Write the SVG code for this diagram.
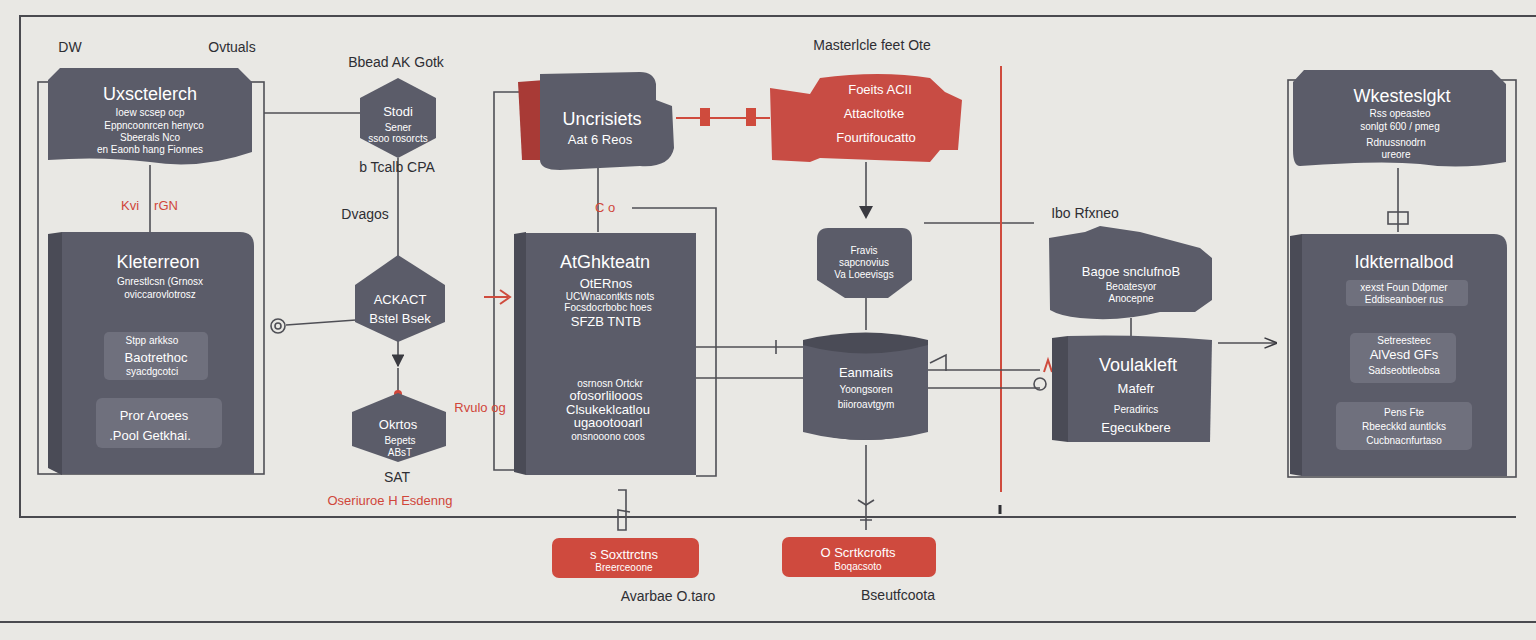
<svg xmlns="http://www.w3.org/2000/svg" width="1536" height="640" viewBox="0 0 1536 640">
<defs>
<style>
.bg{fill:#e9e8e4}
.frame{fill:none;stroke:#4a4a4f;stroke-width:2}
.ln{fill:none;stroke:#4f4f55;stroke-width:1.6}
.rln{fill:none;stroke:#cf4b3d;stroke-width:2}
.dk{fill:#5b5c69}
.dk2{fill:#4a4b56}
.lt{fill:#6f707d}
.red{fill:#c84c44}
.red2{fill:#a83a36}
.btn{fill:#cf4a3e}
.t{font-family:"Liberation Sans","DejaVu Sans",sans-serif;fill:#ffffff;text-anchor:middle}
.h{font-size:18px}
.m{font-size:13px}
.s{font-size:10px}
.lb{font-family:"Liberation Sans","DejaVu Sans",sans-serif;fill:#2e2e33;text-anchor:middle;font-size:14px}
.rl{font-family:"Liberation Sans","DejaVu Sans",sans-serif;fill:#d0463a;text-anchor:middle;font-size:13px}
</style>
<marker id="ah" viewBox="0 0 10 10" refX="9" refY="5" markerWidth="8" markerHeight="8" orient="auto"><path d="M0,0 L10,5 L0,10 z" fill="#3a3a40"/></marker>
<marker id="av" viewBox="0 0 10 10" refX="9" refY="5" markerWidth="8" markerHeight="8" orient="auto"><path d="M0,1 L10,5 L0,9" fill="none" stroke="#3a3a40" stroke-width="1.2"/></marker>
</defs>
<rect class="bg" x="0" y="0" width="1536" height="640"/>
<path class="frame" d="M1536,16 L20,16 L20,517 L1516,517"/>
<line class="frame" x1="0" y1="622" x2="1536" y2="622"/>
<text class="lb" x="70" y="52">DW</text>
<text class="lb" x="232" y="52">Ovtuals</text>
<text class="lb" x="396" y="67">Bbead AK Gotk</text>
<text class="lb" x="872" y="50">Masterlcle feet Ote</text>

<g id="connectors">
<rect class="ln" x="38" y="82" width="226" height="392"/>
<line class="ln" x1="150" y1="165" x2="150" y2="232"/>
<line class="ln" x1="264" y1="113" x2="360" y2="113"/>
<line class="ln" x1="398" y1="158" x2="398" y2="256"/>
<line class="ln" x1="398" y1="340" x2="398" y2="366" marker-end="url(#ah)"/>
<line class="ln" x1="398" y1="368" x2="398" y2="395"/>
<circle cx="398" cy="394" r="4" fill="#d0463a"/>
<circle class="ln" cx="278" cy="326" r="7"/>
<circle class="ln" cx="278" cy="326" r="3"/>
<line class="ln" x1="286" y1="325" x2="356" y2="320"/>
<path class="ln" d="M520,92 L494,92 L494,470 L516,470"/>
<line class="ln" x1="598" y1="168" x2="598" y2="232"/>
<path class="ln" d="M632,208 L716,208 L716,476 L696,476"/>
<path class="rln" d="M484,297 L508,297 M500,290 L510,297 L500,304"/>
<line class="ln" x1="696" y1="347" x2="805" y2="347"/>
<line class="ln" x1="776" y1="340" x2="776" y2="354"/>
<line class="ln" x1="696" y1="378" x2="805" y2="378"/>
<path class="rln" d="M676,118 L770,118" stroke-width="3"/>
<rect x="700" y="108" width="10" height="18" fill="#cf4b3d"/>
<rect x="746" y="108" width="10" height="18" fill="#cf4b3d"/>
<line class="ln" x1="866" y1="162" x2="866" y2="208"/>
<path d="M859,206 L873,206 L866,219 z" fill="#3a3a40"/>
<line class="ln" x1="866" y1="298" x2="866" y2="330"/>
<line class="ln" x1="924" y1="223" x2="1034" y2="223"/>
<line class="rln" x1="1001" y1="66" x2="1001" y2="492" stroke-width="2.2"/>
<line class="ln" x1="928" y1="370" x2="1040" y2="370"/>
<path class="ln" d="M930,363 L946,355 L946,371"/>
<line class="ln" x1="928" y1="388" x2="1040" y2="388"/>
<circle class="ln" cx="1040" cy="384" r="6"/>
<path class="rln" d="M1044,372 L1048,360 L1052,372"/>
<line class="ln" x1="1131" y1="318" x2="1131" y2="338"/>
<line class="ln" x1="1218" y1="343" x2="1276" y2="343" marker-end="url(#av)"/>
<rect class="ln" x="1288" y="80" width="228" height="397"/>
<line class="ln" x1="1398" y1="168" x2="1398" y2="232"/>
<rect class="ln" x="1388" y="212" width="20" height="12"/>
<line class="ln" x1="866" y1="445" x2="866" y2="530"/>
<path class="ln" d="M858,500 L866,505 L874,500 M860,520 L872,520"/>
<path class="ln" d="M618,490 L626,490 L626,530 L618,530 L618,510 L630,512"/>
<line x1="1000" y1="505" x2="1000" y2="514" stroke="#2e2e33" stroke-width="3"/>
</g>

<g id="n-left-top">
<path class="dk" d="M60,68 L238,68 L252,82 L252,152 Q200,170 150,162 Q100,156 48,160 L48,80 z"/>
<text class="t h" x="150" y="100">Uxsctelerch</text>
<text class="t s" x="150" y="116">Ioew scsep ocp</text>
<text class="t s" x="154" y="129">Eppncoonrcen henyco</text>
<text class="t s" x="150" y="141">Sbeerals Nco</text>
<text class="t s" x="150" y="153">en Eaonb hang Fionnes</text>
</g>

<g id="n-left-main">
<path class="dk2" d="M48,234 L62,232 L62,475 L48,468 z"/>
<path class="dk" d="M62,232 L240,232 Q254,232 254,246 L254,474 L62,474 z"/>
<text class="t h" x="158" y="268">Kleterreon</text>
<text class="t s" x="160" y="285">Gnrestlcsn (Grnosx</text>
<text class="t s" x="160" y="298">oviccarovlotrosz</text>
<rect class="lt" x="104" y="332" width="104" height="48" rx="5"/>
<text class="t s" x="152" y="344">Stpp arkkso</text>
<text class="t m" x="156" y="362">Baotrethoc</text>
<text class="t s" x="152" y="375">syacdgcotci</text>
<rect class="lt" x="96" y="398" width="126" height="50" rx="6"/>
<text class="t m" x="154" y="420">Pror Aroees</text>
<text class="t m" x="150" y="440">.Pool Getkhai.</text>
<text class="rl" x="130" y="210">Kvi</text>
<text class="rl" x="166" y="210">rGN</text>
</g>

<g id="n-hex1">
<polygon class="dk" points="398,78 436,98 436,138 398,158 360,138 360,98"/>
<text class="t m" x="398" y="116">Stodi</text>
<text class="t s" x="398" y="131">Sener</text>
<text class="t s" x="398" y="142" font-size="7">ssoo rosorcts</text>
<text class="lb" x="397" y="172" font-size="12">b Tcalb CPA</text>
<text class="lb" x="365" y="219">Dvagos</text>
</g>

<g id="n-hex2">
<polygon class="dk" points="398,255 445,285 445,322 398,342 355,322 355,285"/>
<text class="t m" x="400" y="304">ACKACT</text>
<text class="t m" x="400" y="323">Bstel Bsek</text>
</g>

<g id="n-hex3">
<polygon class="dk" points="398,393 446,412 446,446 398,462 352,446 352,412"/>
<text class="t m" x="398" y="429">Okrtos</text>
<text class="t s" x="400" y="444">Bepets</text>
<text class="t s" x="400" y="456">ABsT</text>
<text class="lb" x="397" y="482" font-size="12">SAT</text>
<text class="rl" x="390" y="505">Oseriuroe H Esdenng</text>
<text class="rl" x="480" y="412">Rvulo og</text>
</g>

<g id="n-center-top">
<path class="red2" d="M518,82 L545,80 L545,160 L522,160 z"/>
<path class="dk" d="M540,74 L640,72 Q654,72 656,84 L656,100 L672,106 L674,148 Q670,168 640,166 L560,170 Q540,170 540,160 z"/>
<text class="t h" x="602" y="125">Uncrisiets</text>
<text class="t m" x="600" y="144">Aat 6 Reos</text>
</g>

<g id="n-center-red">
<path class="red" d="M770,88 L810,94 L820,78 Q880,70 930,78 L945,92 L962,100 L958,150 L940,150 L930,162 L820,158 L810,162 L772,160 z"/>
<text class="t m" x="880" y="94">Foeits ACII</text>
<text class="t m" x="874" y="118">Attacltotke</text>
<text class="t m" x="876" y="142">Fourtifoucatto</text>
</g>

<g id="n-center-main">
<text class="rl" x="605" y="212">C  o</text>
<path class="dk2" d="M514,234 L526,232 L526,475 L514,472 z"/>
<path class="dk" d="M526,233 L696,233 L696,475 L526,475 z"/>
<text class="t h" x="605" y="268">AtGhkteatn</text>
<text class="t m" x="606" y="288">OtERnos</text>
<text class="t s" x="610" y="300">UCWnacontkts nots</text>
<text class="t s" x="608" y="311" font-size="8">Focsdocrbobc hoes</text>
<text class="t m" x="606" y="326">SFZB TNTB</text>
<text class="t s" x="610" y="387">osrnosn Ortckr</text>
<text class="t m" x="606" y="400">ofosorlilooos</text>
<text class="t m" x="608" y="414">Clsukeklcatlou</text>
<text class="t m" x="608" y="427">ugaootooarl</text>
<text class="t s" x="608" y="440" font-size="7">onsnooono coos</text>
</g>

<g id="n-shield">
<path class="dk" d="M828,228 L902,228 Q912,228 912,240 L912,280 L888,298 L845,298 L817,280 L817,240 Q817,228 828,228 z"/>
<text class="t s" x="864" y="254">Fravis</text>
<text class="t s" x="864" y="266">sapcnovius</text>
<text class="t s" x="864" y="278">Va Loeevisgs</text>
</g>

<g id="n-cylinder">
<path class="dk2" d="M803,340 Q866,325 928,340 L928,430 Q866,450 803,430 z"/>
<path class="dk" d="M803,345 Q866,362 928,345 L928,432 Q866,448 803,432 z"/>
<text class="t m" x="866" y="377">Eanmaits</text>
<text class="t s" x="866" y="393">Yoongsoren</text>
<text class="t s" x="866" y="408">biioroavtgym</text>
</g>

<g id="n-right-wave">
<text class="lb" x="1085" y="218" font-size="13">Ibo Rfxneo</text>
<path class="dk" d="M1049,238 L1085,232 L1100,226 L1140,232 L1200,248 L1212,258 L1212,300 L1195,312 L1160,312 Q1120,322 1080,318 Q1060,316 1050,310 z"/>
<text class="t m" x="1131" y="276">Bagoe snclufnoB</text>
<text class="t s" x="1131" y="290">Beoatesyor</text>
<text class="t s" x="1131" y="302">Anocepne</text>
</g>

<g id="n-right-box">
<path class="dk2" d="M1052,338 L1068,336 L1068,442 L1052,440 z"/>
<path class="dk" d="M1068,336 Q1140,334 1212,340 L1210,442 L1068,442 z"/>
<text class="t h" x="1138" y="371">Voulakleft</text>
<text class="t m" x="1136" y="393">Mafefr</text>
<text class="t s" x="1136" y="413">Peradirics</text>
<text class="t m" x="1136" y="432">Egecukbere</text>
</g>

<g id="n-right-top">
<path class="dk" d="M1304,70 L1492,70 L1506,84 L1506,162 Q1460,170 1420,164 Q1380,160 1300,166 Q1293,166 1293,150 L1293,82 z"/>
<text class="t h" x="1402" y="102">Wkesteslgkt</text>
<text class="t s" x="1400" y="117">Rss opeasteo</text>
<text class="t s" x="1400" y="130">sonlgt 600 / pmeg</text>
<text class="t s" x="1396" y="146">Rdnussnodrn</text>
<text class="t s" x="1396" y="158" font-size="8">ureore</text>
</g>

<g id="n-right-main">
<path class="dk2" d="M1290,236 L1302,234 L1302,476 L1290,474 z"/>
<path class="dk" d="M1302,234 L1494,234 Q1507,234 1507,248 L1507,476 L1302,476 z"/>
<text class="t h" x="1404" y="268">Idkternalbod</text>
<rect class="lt" x="1346" y="280" width="122" height="26" rx="4"/>
<text class="t s" x="1404" y="291">xexst Foun Ddpmer</text>
<text class="t s" x="1404" y="303">Eddiseanboer rus</text>
<rect class="lt" x="1350" y="333" width="106" height="50" rx="5"/>
<text class="t s" x="1404" y="344">Setreesteec</text>
<text class="t m" x="1404" y="359">AlVesd GFs</text>
<text class="t s" x="1404" y="374">Sadseobtleobsa</text>
<rect class="lt" x="1336" y="402" width="136" height="48" rx="5"/>
<text class="t s" x="1404" y="416">Pens Fte</text>
<text class="t s" x="1404" y="430">Rbeeckkd auntlcks</text>
<text class="t s" x="1404" y="444">Cucbnacnfurtaso</text>
</g>

<g id="n-btn1">
<rect class="btn" x="552" y="538" width="147" height="40" rx="7"/>
<text class="t m" x="624" y="559">s Soxttrctns</text>
<text class="t s" x="624" y="571" font-size="7">Breerceoone</text>
<text class="lb" x="668" y="601" font-size="13">Avarbae O.taro</text>
</g>

<g id="n-btn2">
<rect class="btn" x="782" y="537" width="154" height="40" rx="7"/>
<text class="t m" x="858" y="557">O Scrtkcrofts</text>
<text class="t s" x="858" y="570" font-size="7">Boqacsoto</text>
<text class="lb" x="898" y="600" font-size="13">Bseutfcoota</text>
</g>
</svg>
